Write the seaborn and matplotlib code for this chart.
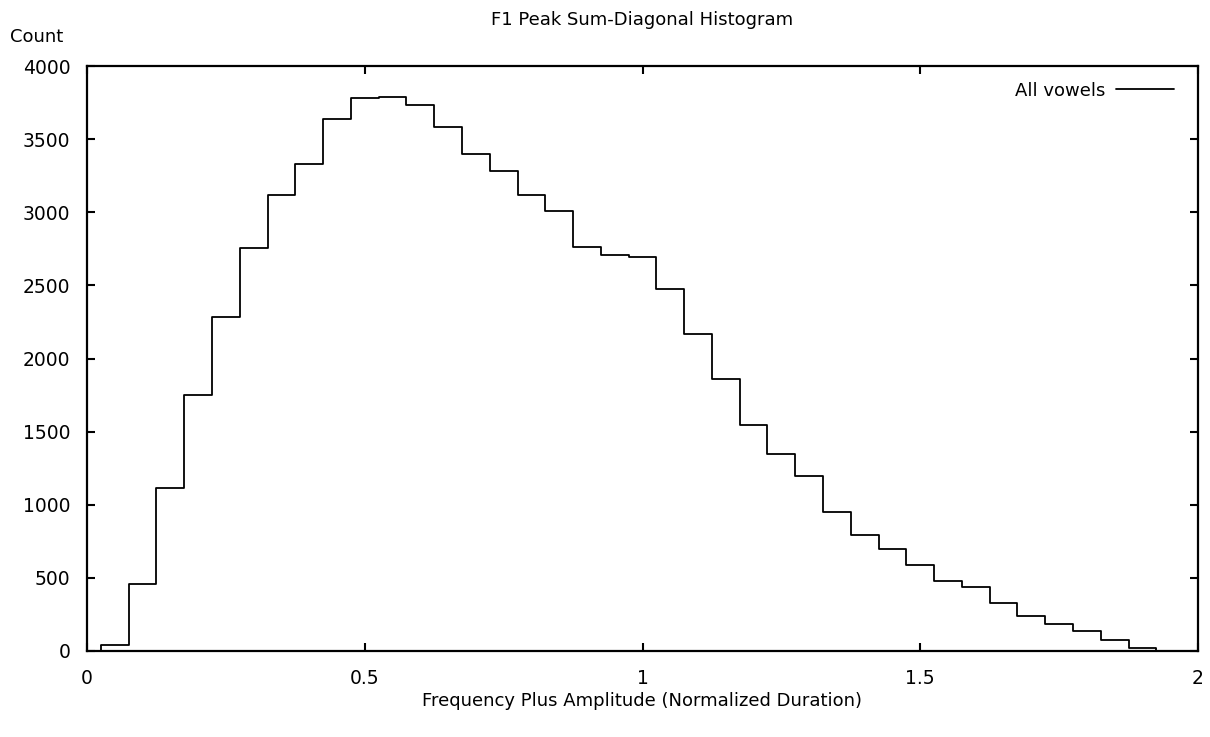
import matplotlib
matplotlib.use("Agg")
import matplotlib.pyplot as plt
import seaborn as sns
import numpy as np
import pandas as pd

bin_centers = [0.05, 0.10, 0.15, 0.20, 0.25, 0.30, 0.35, 0.40, 0.45, 0.50,
               0.55, 0.60, 0.65, 0.70, 0.75, 0.80, 0.85, 0.90, 0.95, 1.00,
               1.05, 1.10, 1.15, 1.20, 1.25, 1.30, 1.35, 1.40, 1.45, 1.50,
               1.55, 1.60, 1.65, 1.70, 1.75, 1.80, 1.85, 1.90]
counts = [40, 460, 1113, 1752, 2282, 2753, 3119, 3327, 3637, 3779,
          3790, 3733, 3580, 3397, 3279, 3116, 3011, 2765, 2707, 2696,
          2477, 2168, 1862, 1547, 1348, 1197, 951, 795, 695, 587,
          480, 435, 329, 238, 188, 137, 78, 21]
bin_width = 0.05
x_ticks = [0, 0.5, 1, 1.5, 2]
x_tick_labels = ["0", "0.5", "1", "1.5", "2"]
y_ticks = [0, 500, 1000, 1500, 2000, 2500, 3000, 3500, 4000]
series_label = "All vowels"
title = "F1 Peak Sum-Diagonal Histogram"
xlabel = "Frequency Plus Amplitude (Normalized Duration)"
ylabel = "Count"

sns.set_theme(style="ticks")
plt.rcParams['font.family'] = ['DejaVu Sans']
plt.rcParams['text.color'] = 'black'
FS = 13
TFS = 13.5

fig = plt.figure(figsize=(12.1, 7.37), dpi=100)
ax = fig.add_axes([87/1210, 86/737, (1198-87)/1210, (651-66)/737])

df = pd.DataFrame({"x": bin_centers, "count": counts})
edges = [c - bin_width/2 for c in bin_centers] + [bin_centers[-1] + bin_width/2]
sns.histplot(data=df, x="x", weights="count", bins=edges, element="step",
             fill=False, color="black", linewidth=1.3, ax=ax, label=series_label)
# close the outline at both ends, as the original step histogram does
ax.vlines([edges[0], edges[-1]], 0, [counts[0], counts[-1]], color="black", linewidth=1.3)

ax.set_xlim(0, 2)
ax.set_ylim(0, 4000)
ax.set_xticks(x_ticks)
ax.set_xticklabels(x_tick_labels)
ax.set_yticks(y_ticks)
for s in ax.spines.values():
    s.set_visible(True)
    s.set_linewidth(1.6)
    s.set_color("black")
ax.tick_params(direction="in", length=6, width=1.5, top=True, right=True,
               labelsize=TFS, colors="black", labelcolor="black", pad=12)
ax.tick_params(axis="x", pad=13)
ax.set_xlabel(xlabel, fontsize=FS, labelpad=3, color="black")
ax.set_ylabel("")
fig.text(10/1210, 1 - 37/737, ylabel, fontsize=FS, ha="left", va="center", color="black")
fig.text(642/1210, 1 - 20/737, title, fontsize=FS, ha="center", va="center", color="black")

leg = ax.legend(loc="upper right", bbox_to_anchor=(0.99, 0.995), frameon=False,
                markerfirst=False, fontsize=FS, handlelength=3.2,
                handletextpad=0.6, borderaxespad=0.3, labelcolor="black")

fig.savefig("out.png", dpi=100)
